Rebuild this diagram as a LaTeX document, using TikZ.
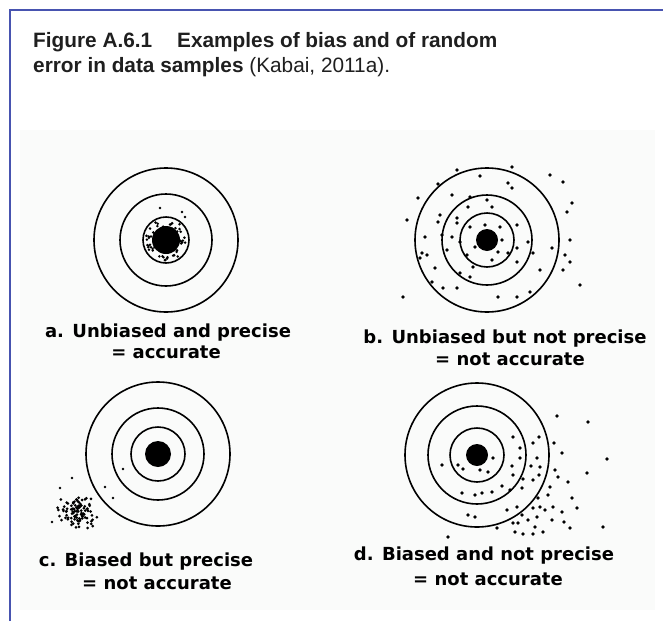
\documentclass[tikz,border=0pt]{standalone}
\usepackage{fontspec}
\setmainfont{Liberation Sans}
\newfontfamily\labelfont{DejaVu Sans}
\usetikzlibrary{positioning}
\definecolor{frameblue}{RGB}{72,84,176}
\definecolor{scanbg}{RGB}{250,251,250}

\begin{document}
\begin{tikzpicture}[
    x=1pt, y=-1pt,
    title/.style={anchor=base west, inner sep=0pt, text=black!88, font=\fontsize{20.8}{25}\selectfont},
    caption/.style={anchor=base, inner sep=0pt, font=\labelfont\bfseries\fontsize{18}{21}\selectfont},
    ring/.style={line width=1.6pt},
    shot/.style={fill=black}
]
    \useasboundingbox (0,0) rectangle (663,621);
    \fill[scanbg] (20,130) rectangle (655,610);
    \draw[frameblue, line width=2pt] (10,621) -- (10,10) -- (663,10);

    % caption of the figure
    \node[title] (fig) at (33,47) {\textbf{Figure A.6.1}};
    \node[title] (head) at (177,47) {\textbf{Examples of bias and of random}};
    \node[title] (head2) at (33,72) {\textbf{error in data samples} (Kabai, 2011a).};

    % the four targets: centre, middle ring, inner ring, bull
    \foreach \cx/\cy/\rm/\ri/\rb in {166/240/46/23/14, 487/240/45/27/11, 158/454/46/27/13, 477/455/49/27/11}{
        \draw[ring] (\cx,\cy) circle (72) circle (\rm) circle (\ri);
        \fill (\cx,\cy) circle (\rb);
    }

    \pgfmathsetseed{31}
    % a: tight group on the bull
    \foreach \k in {1,...,90}{
        \pgfmathsetmacro\ang{360*rnd}
        \pgfmathsetmacro\rad{8+13*rnd}
        \fill[shot] ({166+\rad*cos(\ang)},{240+\rad*sin(\ang)}) circle (1.4);
    }
    \foreach \px/\py in {160/208, 182/212, 185/217}
        \fill[shot] (\px,\py) circle (1.3);

    % b: wide spread round the bull
    \foreach \px/\py in {457/170, 512/167, 550/175, 563/182, 438/184, 480/176, 508/183, 512/188,
        418/198, 452/195, 470/197, 487/200, 492/207, 468/207, 572/203, 567/212, 407/220, 440/215,
        457/218, 457/223, 438/222, 425/237, 442/235, 470/227, 485/225, 500/227, 517/225, 452/237,
        460/242, 502/240, 528/242, 570/240, 422/253, 427/255, 447/250, 467/255, 475/247, 487/248,
        498/252, 508/253, 517/248, 533/253, 552/248, 565/255, 570/262, 563/270, 435/268, 473/267,
        492/260, 517/262, 540/270, 460/273, 470/277, 432/282, 443/288, 457/288, 498/297, 517/297,
        530/292, 580/285, 403/297, 420/258}
        \fill[shot] (\px,\py) circle (1.8);

    % c: tight group off the target
    \foreach \k in {1,...,100}{
        \pgfmathsetmacro\dx{11*(rand+rand)}
        \pgfmathsetmacro\dy{9*(rand+rand)}
        \fill[shot] ({78+\dx},{513+\dy}) circle (1.5);
    }
    \foreach \px/\py in {72/478, 105/487, 123/469, 60/488, 52/522, 113/498}
        \fill[shot] (\px,\py) circle (1.4);

    % d: wide spread off to the lower right
    \foreach \px/\py in {557/416, 588/422, 513/437, 533/443, 539/437, 554/443, 562/453, 520/448,
        520/458, 537/458, 493/458, 607/459, 442/465, 458/465, 463/469, 480/470, 488/472, 512/466,
        531/466, 540/467, 555/470, 558/477, 568/482, 587/473, 513/475, 523/479, 533/480, 539/475,
        550/487, 462/493, 475/495, 482/493, 492/492, 502/486, 510/490, 522/488, 538/498, 548/495,
        553/507, 540/507, 533/508, 545/510, 562/512, 572/498, 577/508, 517/507, 507/510, 468/515,
        475/517, 522/515, 528/520, 537/517, 552/520, 564/522, 513/523, 518/523, 535/527, 543/532,
        497/528, 515/532, 523/534, 533/534, 570/528, 603/527, 448/537}
        \fill[shot] (\px,\py) circle (1.8);

    % labels
    \node[caption] (capa) at (168,337) {a. Unbiased and precise};
    \node[caption] (capa2) at (166,358) {= accurate};
    \node[caption] (capb) at (505,343) {b. Unbiased but not precise};
    \node[caption] (capb2) at (510,365) {= not accurate};
    \node[caption] (capc) at (146,566) {c. Biased but precise};
    \node[caption] (capc2) at (157,589) {= not accurate};
    \node[caption] (capd) at (484,560) {d. Biased and not precise};
    \node[caption] (capd2) at (488,585) {= not accurate};
\end{tikzpicture}
\end{document}
